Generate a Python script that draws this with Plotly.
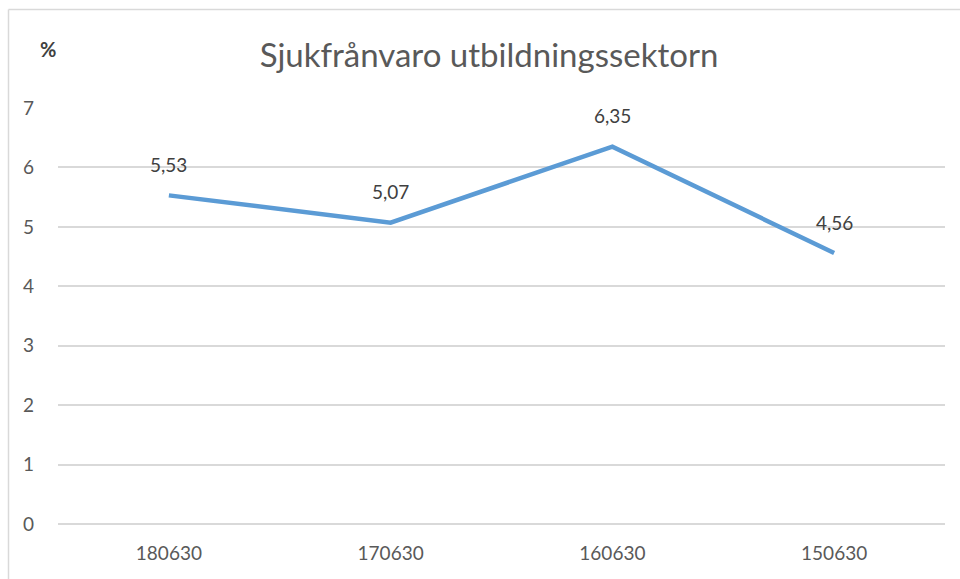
import plotly.graph_objects as go

categories = ["180630", "170630", "160630", "150630"]
values = [5.53, 5.07, 6.35, 4.56]
label_texts = ["5,53", "5,07", "6,35", "4,56"]
y_ticks = [0, 1, 2, 3, 4, 5, 6, 7]

W, H = 960, 579
L, R, T, B = 58, 15, 108, 55
pw = W - L - R
ph = H - T - B
FONT = "Lato, Open Sans, sans-serif"

fig = go.Figure()
fig.add_trace(go.Scatter(
    x=list(range(len(categories))), y=values, mode="lines",
    line=dict(color="#5B9BD5", width=4.5),
    hoverinfo="skip", showlegend=False,
))

for i, (v, t) in enumerate(zip(values, label_texts)):
    fig.add_annotation(x=i, y=v, text=t, showarrow=False, xref="x", yref="y",
                       yshift=31, font=dict(family=FONT, size=19, color="#404040"))

fig.add_annotation(x=(48 - L) / pw, y=1 + (T - 49) / ph, xref="paper", yref="paper",
                   xanchor="center", yanchor="middle",
                   text="<b>%</b>", showarrow=False,
                   font=dict(family=FONT, size=20, color="#404040"))

# chart frame
fig.add_shape(type="line", xref="paper", yref="paper",
              x0=(8.5 - L) / pw, x1=(W - L) / pw, y0=1 + (T - 9.5) / ph, y1=1 + (T - 9.5) / ph,
              line=dict(color="#D9D9D9", width=1.5))
fig.add_shape(type="line", xref="paper", yref="paper",
              x0=(8.5 - L) / pw, x1=(8.5 - L) / pw, y0=-B / ph, y1=1 + (T - 9.5) / ph,
              line=dict(color="#D9D9D9", width=1.5))

fig.update_layout(
    width=W, height=H,
    margin=dict(l=L, r=R, t=T, b=B),
    paper_bgcolor="white", plot_bgcolor="white",
    title=dict(text="Sjukfrånvaro utbildningssektorn", x=489 / W, xanchor="center",
               y=1 - 55 / H, yanchor="middle",
               font=dict(family=FONT, size=33, color="#595959")),
    xaxis=dict(tickvals=list(range(len(categories))), ticktext=categories,
               showgrid=False, zeroline=False, showline=False, ticks="",
               tickfont=dict(family=FONT, size=19, color="#595959"),
               range=[-0.5, len(categories) - 0.5], ticklabelstandoff=16),
    yaxis=dict(range=[0, 7], tickvals=y_ticks, showgrid=True, gridcolor="#D9D9D9", gridwidth=1.5,
               zeroline=True, zerolinecolor="#D9D9D9", zerolinewidth=1.5, showline=False, ticks="",
               tickfont=dict(family=FONT, size=19, color="#595959"),
               ticklabelstandoff=23),
)

fig.write_html("out.html", config={"displayModeBar": False},
               post_script="document.body.style.margin='0';document.body.style.overflow='hidden';")
